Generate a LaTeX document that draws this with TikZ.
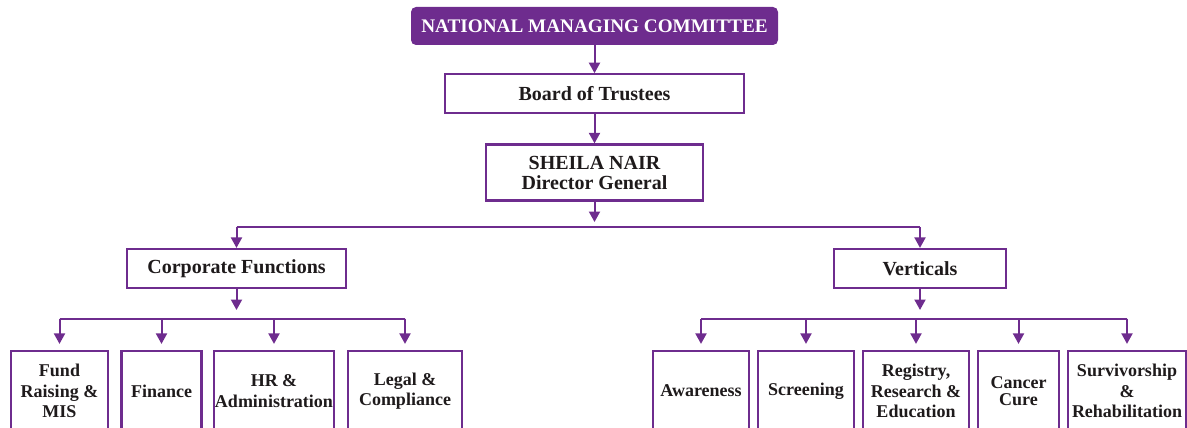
\documentclass[tikz,border=0pt]{standalone}
\usepackage{fontspec}
\setmainfont{Liberation Serif}
\usepackage{xcolor}
\usetikzlibrary{arrows.meta,positioning}

\definecolor{orgpurple}{RGB}{110,44,142}
\definecolor{orgtext}{RGB}{30,26,27}

\begin{document}
\begin{tikzpicture}[
    x=1pt, y=-1pt,
    node distance=28pt,
    box/.style={draw=orgpurple, line width=2.2pt, inner sep=0pt, text=orgtext,
                align=center, font=\bfseries\fontsize{20}{20}\selectfont},
    headbox/.style={fill=orgpurple, rounded corners=5pt, inner sep=0pt, text=white,
                minimum width=367pt, minimum height=38pt,
                font=\bfseries\fontsize{19.2}{19.2}\selectfont},
    unit/.style={box, minimum height=80pt, font=\bfseries\fontsize{18}{20.5}\selectfont},
    arr/.style={-{Triangle[width=11pt,length=10.5pt]}, draw=orgpurple, fill=orgpurple, line width=2pt},
    bus/.style={draw=orgpurple, line width=2pt}
]
  \useasboundingbox (0,0) rectangle (1187,428);
  \clip (0,0) rectangle (1187,428);

  % top of the chart
  \node[headbox] (nmc) at (594.5,26) {NATIONAL MANAGING COMMITTEE};
  \node[box, below=28pt of nmc, minimum width=299pt, minimum height=39pt] (board) {Board of Trustees};
  \node[box, below=29pt of board, minimum width=217pt, minimum height=56pt] (dg) {SHEILA NAIR\\Director General};

  \node[box, minimum width=219pt, minimum height=39pt] (corp) at (236.5,268.5) {Corporate Functions};
  \node[box, minimum width=172pt, minimum height=39pt] (vert) at (920,268.5) {Verticals};

  % corporate functions
  \node[unit, minimum width=97pt]  (fund)  at (59.5,391)  {Fund\\Raising \&\\MIS};
  \node[unit, minimum width=80pt]  (fin)   at (161.5,391) {Finance};
  \node[unit, minimum width=120pt] (hr)    at (274,391)   {HR \&\\Administration};
  \node[unit, minimum width=114pt] (legal) at (405,391)   {Legal \&\\Compliance};

  % verticals
  \node[unit, minimum width=96pt]  (aware)  at (701,391)    {Awareness};
  \node[unit, minimum width=96pt]  (screen) at (806,391)    {Screening};
  \node[unit, minimum width=106pt] (reg)    at (916,391)    {Registry,\\Research \&\\Education};
  \node[unit, minimum width=81pt, font=\bfseries\fontsize{18}{17.5}\selectfont] (cure) at (1018.5,391) {Cancer\\Cure};
  \node[unit, minimum width=118pt] (surv)   at (1127,391)   {Survivorship\\\&\\Rehabilitation};

  \coordinate (dgend) at (594.5,222);
  \coordinate (topbus) at (594.5,227);
  \coordinate (corpend) at (236.5,310);
  \coordinate (corpbus) at (236.5,318.5);
  \coordinate (vertend) at (920,310);
  \coordinate (vertbus) at (920,318.5);

  \draw[arr] (nmc) -- (board);
  \draw[arr] (board) -- (dg);
  \draw[arr] (dg.south) -- (dgend);

  \draw[bus] (corp |- topbus) -- (vert |- topbus);
  \draw[arr] (corp |- topbus) -- (corp);
  \draw[arr] (vert |- topbus) -- (vert);

  \draw[arr] (corp.south) -- (corpend);
  \draw[bus] (fund |- corpbus) -- (legal |- corpbus);
  \foreach \u in {fund,fin,hr,legal}
    \draw[arr, shorten >=6pt] (\u |- corpbus) -- (\u);

  \draw[arr] (vert.south) -- (vertend);
  \draw[bus] (aware |- vertbus) -- (surv |- vertbus);
  \foreach \u in {aware,screen,reg,cure,surv}
    \draw[arr, shorten >=6pt] (\u |- vertbus) -- (\u);
\end{tikzpicture}
\end{document}
